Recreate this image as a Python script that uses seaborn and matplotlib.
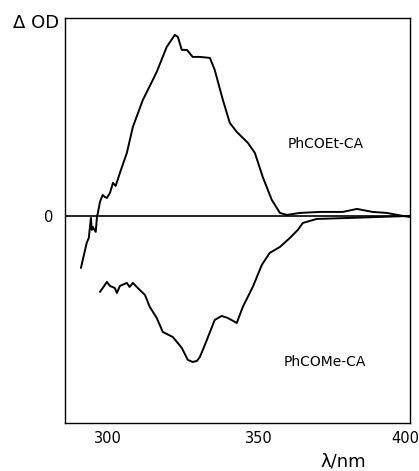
import numpy as np
import pandas as pd
import matplotlib
matplotlib.use("Agg")
import matplotlib.pyplot as plt
import matplotlib.transforms as mtransforms
import seaborn as sns

# wavelengths (nm) and Delta OD (arbitrary units)
et_wl = [291.1, 291.7, 293.0, 293.7, 294.4, 294.7, 295.0, 296.0, 296.4, 296.7,
         297.4, 298.3, 299.0, 299.7, 300.7, 301.7, 302.6, 304.0, 306.3, 308.3,
         311.6, 314.9, 316.2, 319.5, 322.2, 323.2, 324.5, 326.2, 328.1, 330.5,
         333.8, 335.4, 338.1, 340.4, 342.7, 346.4, 348.7, 351.3, 354.3, 357.0,
         359.3, 363.6, 370.2, 377.8, 382.5, 387.7, 392.4, 397.7, 400.0]
et_od = [-0.52, -0.44, -0.27, -0.22, -0.02, -0.14, -0.11, -0.16, -0.01, 0.03,
         0.14, 0.21, 0.19, 0.18, 0.23, 0.33, 0.30, 0.43, 0.63, 0.89,
         1.16, 1.36, 1.44, 1.69, 1.81, 1.79, 1.66, 1.66, 1.59, 1.59,
         1.58, 1.46, 1.16, 0.93, 0.84, 0.73, 0.63, 0.39, 0.16, 0.03,
         0.01, 0.03, 0.04, 0.04, 0.07, 0.04, 0.03, 0.00, -0.01]

me_wl = [297.4, 299.7, 300.7, 302.3, 303.0, 304.0, 306.3, 307.2, 308.3, 309.9,
         312.3, 313.9, 316.2, 318.2, 321.5, 324.5, 326.5, 328.1, 329.5, 330.5,
         332.8, 335.4, 337.7, 339.7, 342.7, 344.7, 348.0, 351.0, 353.6, 357.0,
         360.3, 362.9, 364.6, 369.2, 380.1, 390.1, 400.0]
me_od = [-0.76, -0.66, -0.70, -0.72, -0.77, -0.70, -0.67, -0.71, -0.67, -0.72,
         -0.79, -0.91, -1.02, -1.16, -1.21, -1.32, -1.44, -1.46, -1.45, -1.41,
         -1.24, -1.04, -1.00, -1.02, -1.07, -0.91, -0.71, -0.49, -0.37, -0.31,
         -0.22, -0.14, -0.07, -0.03, -0.02, -0.01, 0.00]

x_ticks = [300, 350, 400]
labels = ["PhCOEt-CA", "PhCOMe-CA"]

df = pd.concat([
    pd.DataFrame({"wl": et_wl, "od": et_od, "sample": labels[0]}),
    pd.DataFrame({"wl": me_wl, "od": me_od, "sample": labels[1]}),
])

sns.set_style("white")
plt.rcParams["font.family"] = ["DejaVu Sans"]
plt.rcParams["text.color"] = "black"
plt.rcParams["xtick.color"] = "black"
plt.rcParams["ytick.color"] = "black"

fig = plt.figure(figsize=(4.19, 4.71), dpi=100)
ax = fig.add_axes([0.155, 0.102, 0.823, 0.860])

sns.lineplot(data=df, x="wl", y="od", units="sample", estimator=None,
             sort=False, color="black", linewidth=1.4, ax=ax)
ax.axhline(0, color="black", linewidth=1.2)

ax.set_xlim(285.8, 400)
ax.set_ylim(-2.07, 1.98)
ax.set_xticks(x_ticks)
ax.set_xticklabels([str(t) for t in x_ticks], fontsize=10.5)
ax.set_yticks([0])
ax.set_yticklabels(["0"], fontsize=10.5)
ax.tick_params(axis="x", direction="in", length=4, width=1, pad=6)
ax.tick_params(axis="y", length=0, pad=8)
ax.set_xlabel("")
ax.set_ylabel("")
for s in ax.spines.values():
    s.set_visible(True)
    s.set_color("black")
    s.set_linewidth(1.0)

# nudge the "400" label left so it stays inside the figure
last = ax.get_xticklabels()[-1]
last.set_transform(last.get_transform() +
                   mtransforms.ScaledTranslation(-4 / 100, 0, fig.dpi_scale_trans))

ax.text(372, 0.72, "PhCOEt-CA", fontsize=10, ha="center", va="center")
ax.text(372, -1.46, "PhCOMe-CA", fontsize=10, ha="center", va="center")

fig.text(13 / 419, 1 - 23 / 471, "\u0394 OD", fontsize=13, ha="left", va="center")
fig.text(343 / 419, 1 - 461 / 471, "\u03bb/nm", fontsize=13, ha="center", va="center")

fig.savefig("out.png", dpi=100)
